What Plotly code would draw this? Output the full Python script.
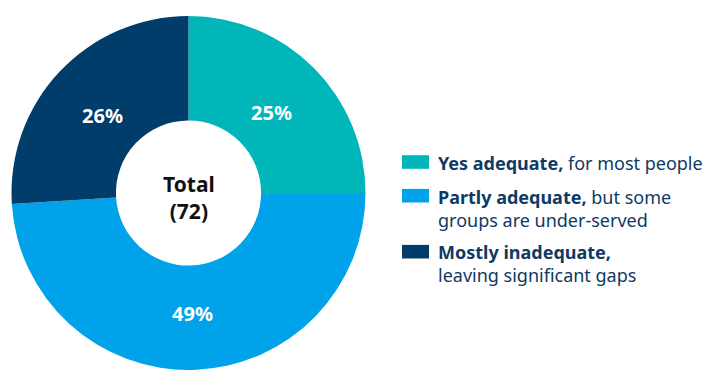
import math
import plotly.graph_objects as go

categories = ["Yes adequate", "Partly adequate", "Mostly inadequate"]
descriptions = [", for most people", ", but some<br>groups are under-served", ",<br>leaving significant gaps"]
values = [25, 49, 26]
total_n = 72
colors = ["#00B6B9", "#00A3E9", "#003D6B"]

W, H = 713, 370
cx, cy, R = 188.5, 193, 177  # pixel layout of the donut
label_r = 118                # radial distance of percent labels

fig = go.Figure()
fig.add_trace(go.Pie(
    labels=categories,
    values=values,
    sort=False,
    direction="clockwise",
    rotation=0,
    hole=0.41,
    marker=dict(colors=colors, line=dict(width=0)),
    textinfo="none",
    domain=dict(x=[(cx - R) / W, (cx + R) / W], y=[1 - (cy + R) / H, 1 - (cy - R) / H]),
    showlegend=False,
    hoverinfo="label+percent",
))

# percent labels along each slice bisector (computed from the values)
tot = sum(values)
cum = 0
for v in values:
    mid = (cum + v / 2) / tot * 2 * math.pi
    cum += v
    px = cx + label_r * math.sin(mid)
    py = cy - label_r * math.cos(mid) + 3
    fig.add_annotation(
        x=px / W, y=1 - py / H, xref="paper", yref="paper",
        text=f"<b>{round(100 * v / tot)}%</b>", showarrow=False,
        xanchor="center", yanchor="middle",
        font=dict(family="Noto Sans", size=20, color="white"),
    )

# centre text
fig.add_annotation(
    x=cx / W, y=1 - 197.5 / H, xref="paper", yref="paper",
    text=f"<b>Total</b><br><b>({total_n})</b>", showarrow=False,
    xanchor="center", yanchor="middle",
    font=dict(family="Noto Sans", size=21, color="#111111"),
)

# custom legend
text_centers = [163, 208, 263]
box_centers = [162, 195.7, 251.7]
for cat, desc, col, yc, yb in zip(categories, descriptions, colors, text_centers, box_centers):
    fig.add_shape(
        type="rect", xref="paper", yref="paper",
        x0=402 / W, x1=429 / W,
        y0=1 - (yb + 6.8) / H, y1=1 - (yb - 6.8) / H,
        fillcolor=col, line=dict(width=0),
    )
    fig.add_annotation(
        x=436 / W, y=1 - yc / H, xref="paper", yref="paper",
        text=f"<b>{cat},</b>{desc[1:]}",
        showarrow=False, xanchor="left", yanchor="middle", align="left",
        font=dict(family="Noto Sans", size=18, color="#0E3A64"),
    )

fig.update_layout(
    width=W, height=H,
    margin=dict(l=0, r=0, t=0, b=0),
    paper_bgcolor="white", plot_bgcolor="white",
    font=dict(family="Noto Sans"),
)

fig.write_html("out.html")
